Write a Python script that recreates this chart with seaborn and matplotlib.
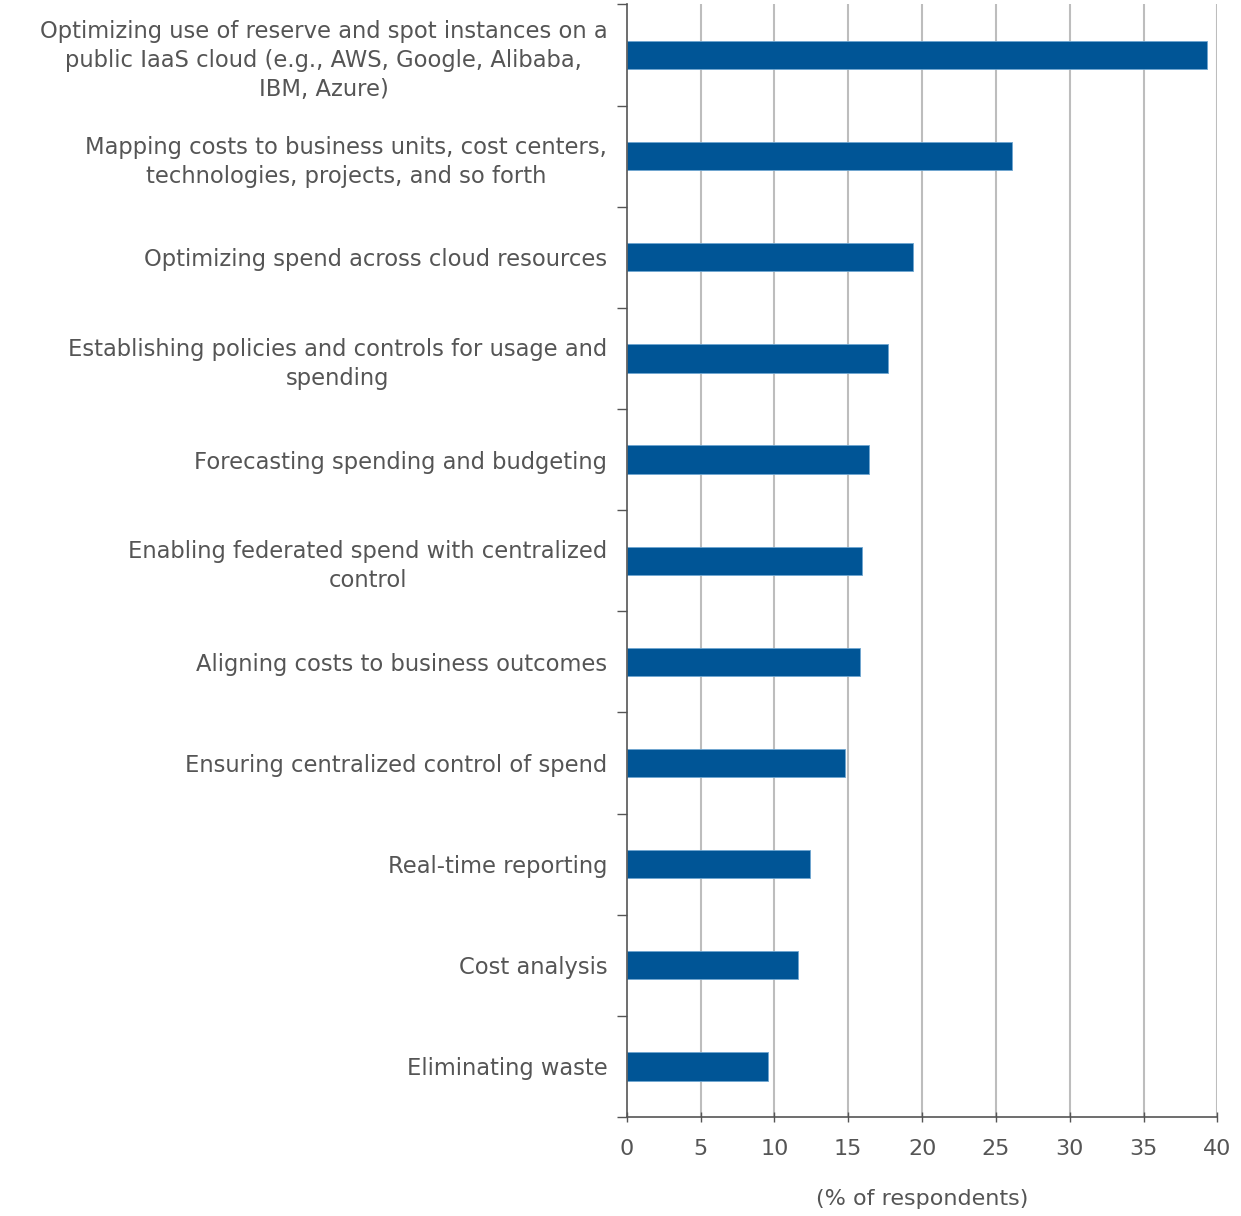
import pandas as pd
import numpy as np
import matplotlib
matplotlib.use("Agg")
import matplotlib.pyplot as plt
import seaborn as sns

categories = [
    "Optimizing use of reserve and spot instances on a\npublic IaaS cloud (e.g., AWS, Google, Alibaba,\nIBM, Azure)",
    "Mapping costs to business units, cost centers,\ntechnologies, projects, and so forth",
    "Optimizing spend across cloud resources",
    "Establishing policies and controls for usage and\nspending",
    "Forecasting spending and budgeting",
    "Enabling federated spend with centralized\ncontrol",
    "Aligning costs to business outcomes",
    "Ensuring centralized control of spend",
    "Real-time reporting",
    "Cost analysis",
    "Eliminating waste",
]
values = [39.3, 26.1, 19.4, 17.7, 16.4, 15.9, 15.8, 14.8, 12.4, 11.6, 9.6]
x_ticks = [0, 5, 10, 15, 20, 25, 30, 35, 40]

df = pd.DataFrame({"Category": categories, "Value": values})

sns.set_style("white")
plt.rcParams["font.family"] = ["DejaVu Sans"]

text_color = "#555555"
bar_color = "#005596"

fig = plt.figure(figsize=(12.41, 12.16), dpi=100)
ax = fig.add_axes([0.505, 0.0814, 0.476, 0.915])

sns.barplot(
    data=df,
    x="Value",
    y="Category",
    orient="h",
    color=bar_color,
    saturation=1,
    width=0.28,
    edgecolor="#6fa6d0",
    linewidth=0.6,
    ax=ax,
)

ax.set_xlim(0, 40)
ax.set_ylim(len(categories) - 0.5, -0.5)
ax.set_xticks(x_ticks)
ax.set_xticklabels([str(t) for t in x_ticks], fontsize=16, color=text_color)
for t in x_ticks[1:]:
    ax.axvline(t, color="#bdbdbd", linewidth=1.5, zorder=0)

# category labels centred on bars, tick marks between categories
ax.set_yticks(range(len(categories)))
ax.set_yticklabels(categories, fontsize=16.3, color=text_color,
                   multialignment="center", linespacing=1.35)
ax.tick_params(axis="y", length=0, pad=14)
ax.set_yticks(np.arange(-0.5, len(categories), 1), minor=True)
ax.tick_params(axis="y", which="minor", left=True, length=7, width=1,
               color="#555555", direction="out")
ax.tick_params(axis="x", bottom=True, length=7, width=1, color="#555555",
               direction="inout", pad=12)

for side in ["top", "right"]:
    ax.spines[side].set_visible(False)
for side in ["left", "bottom"]:
    ax.spines[side].set_color("#555555")
    ax.spines[side].set_linewidth(1.2)

ax.set_ylabel("")
ax.set_xlabel("(% of respondents)", fontsize=16, color=text_color, labelpad=22)

fig.savefig("out.png", dpi=100)
